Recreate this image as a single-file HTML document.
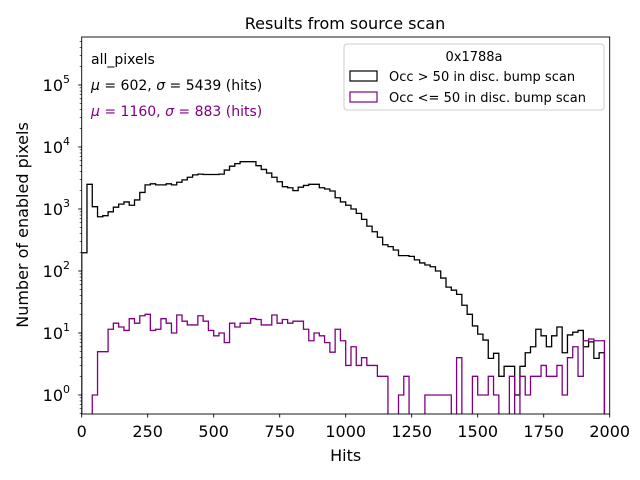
<!DOCTYPE html>
<html><head><meta charset="utf-8"><style>
body{margin:0;background:#fff}
svg{display:block;font-family:"DejaVu Sans","Liberation Sans",sans-serif}
</style></head><body>
<svg id="chart" width="640" height="480" viewBox="0 0 640 480" xmlns="http://www.w3.org/2000/svg">
<defs><clipPath id="clip"><rect x="81.7" y="37" width="528" height="377"/></clipPath></defs>
<rect x="0" y="0" width="640" height="480" fill="#fff"/>
<text x="345" y="29" font-size="16" text-anchor="middle">Results from source scan</text>
<g id="marks" clip-path="url(#clip)"></g>
<g id="axes"></g>
<rect x="81.7" y="37" width="528" height="377" fill="none" stroke="#000" stroke-width="0.9"/>
<text x="345.7" y="461" font-size="16" text-anchor="middle">Hits</text>
<text transform="translate(28,225) rotate(-90)" font-size="16" text-anchor="middle">Number of enabled pixels</text>
<text x="91" y="64" font-size="14">all_pixels</text>
<text x="91" y="90" font-size="14"><tspan font-style="italic">μ</tspan> = 602, <tspan font-style="italic">σ</tspan> = 5439 (hits)</text>
<text x="91" y="116" font-size="14" fill="#800080"><tspan font-style="italic">μ</tspan> = 1160, <tspan font-style="italic">σ</tspan> = 883 (hits)</text>
<g>
<rect x="344" y="44" width="260" height="66" rx="3" fill="#fff" fill-opacity="0.8" stroke="#ccc"/>
<text x="474" y="61" font-size="13" text-anchor="middle">0x1788a</text>
<rect x="350" y="71" width="27" height="10" fill="none" stroke="#000" stroke-width="1.2"/>
<text x="389" y="81" font-size="13">Occ &gt; 50 in disc. bump scan</text>
<rect x="350" y="92" width="27" height="10" fill="none" stroke="#800080" stroke-width="1.2"/>
<text x="389" y="102" font-size="13">Occ &lt;= 50 in disc. bump scan</text>
</g>
</svg>
<script>
const binEdgesStart = 0, binWidth = 20;
const blackCounts = [197,2500,1090,750,780,900,1070,1200,1300,1150,1400,1850,2450,2550,2450,2450,2550,2450,2700,2950,3250,3550,3650,3600,3600,3600,3650,4250,4900,5400,5800,5800,5800,5000,4350,3800,3250,2750,2290,2200,1980,2250,2400,2500,2500,2200,2100,1950,1520,1300,1150,1000,850,680,530,430,350,265,247,218,177,177,172,151,135,125,117,100,77,55,49,42,28,20,13,9.6,7.7,3.9,4.7,2,2.9,2.9,1,2.9,4.8,6,11.5,9,6,9,12.5,4.8,9.3,10.3,11,6,7.2,3.9,4.8,0];
const purpleCounts = [0,0,1,5,5,11.5,14.4,12.5,11,17,14.4,19,20,11,11.5,17,14.4,10,19.5,15.5,13.5,13.5,19,15.5,11,9,10,7,14.4,12.5,14.4,14.4,17,16.5,13.5,13.5,19.5,14.4,16.5,14.4,15.5,15.5,11.5,7.5,10,9,7,4.9,11.5,7.5,3,6,3,4,3,3,2,2,0,0,1,2,0,0,0,1,1,1,1,1,0,4,0,0,2,1,1,2,1,0,0,2,0,2,1,2,2,3,2,2,3,1,4,6,2,7.5,8,7.5,7.5,0];
const xTicks = [0,250,500,750,1000,1250,1500,1750,2000];
const yTickExps = [0,1,2,3,4,5];

const X0=81.7, X1=609.7, XMIN=0, XMAX=2000;
const Y0=395, DEC=62;
const xs = v => X0 + (v-XMIN)/(XMAX-XMIN)*(X1-X0);
const ys = v => v>0 ? Y0 - DEC*Math.log10(v) : 430;
const NS='http://www.w3.org/2000/svg';
function mk(tag, attrs){const e=document.createElementNS(NS,tag);for(const k in attrs)e.setAttribute(k,attrs[k]);return e;}

const marks=document.getElementById('marks');
function stepPath(counts){
  let d='M'+xs(binEdgesStart)+','+430;
  counts.forEach((c,i)=>{
    const a=xs(binEdgesStart+i*binWidth), b=xs(binEdgesStart+(i+1)*binWidth);
    d+=' L'+a+','+ys(c)+' L'+b+','+ys(c);
  });
  d+=' L'+xs(binEdgesStart+counts.length*binWidth)+',430';
  return d;
}
const pb=mk('path',{d:stepPath(blackCounts),fill:'none',stroke:'#000','stroke-width':1.3});


marks.appendChild(pb);
const pp=mk('path',{d:stepPath(purpleCounts),fill:'none',stroke:'#800080','stroke-width':1.3});


marks.appendChild(pp);

const axes=document.getElementById('axes');
xTicks.forEach(t=>{
  const x=xs(t);
  const l=mk('line',{x1:x,x2:x,y1:414,y2:417.5,stroke:'#000','stroke-width':0.9});
  
  
  axes.appendChild(l);
  const tx=mk('text',{x:x,y:437,'font-size':16,'text-anchor':'middle'});
  
  
  tx.textContent=String(t);
  axes.appendChild(tx);
});
yTickExps.forEach(e=>{
  const y=ys(Math.pow(10,e));
  const l=mk('line',{x1:78.2,x2:81.7,y1:y,y2:y,stroke:'#000','stroke-width':0.9});
  
  
  axes.appendChild(l);
  const tx=mk('text',{x:70,y:y+6,'font-size':16,'text-anchor':'end'});
  
  
  tx.textContent='10';
  const sup=mk('tspan',{dy:-8,'font-size':11});
  sup.textContent=String(e);
  tx.appendChild(sup);
  axes.appendChild(tx);
});
for(let e=-1;e<=5;e++){
  for(let m=2;m<=9;m++){
    const y=ys(m*Math.pow(10,e));
    if(y<37||y>414) continue;
    const l=mk('line',{x1:79.7,x2:81.7,y1:y,y2:y,stroke:'#000','stroke-width':0.6});
    
    
    axes.appendChild(l);
  }
}
</script>
</body></html>
